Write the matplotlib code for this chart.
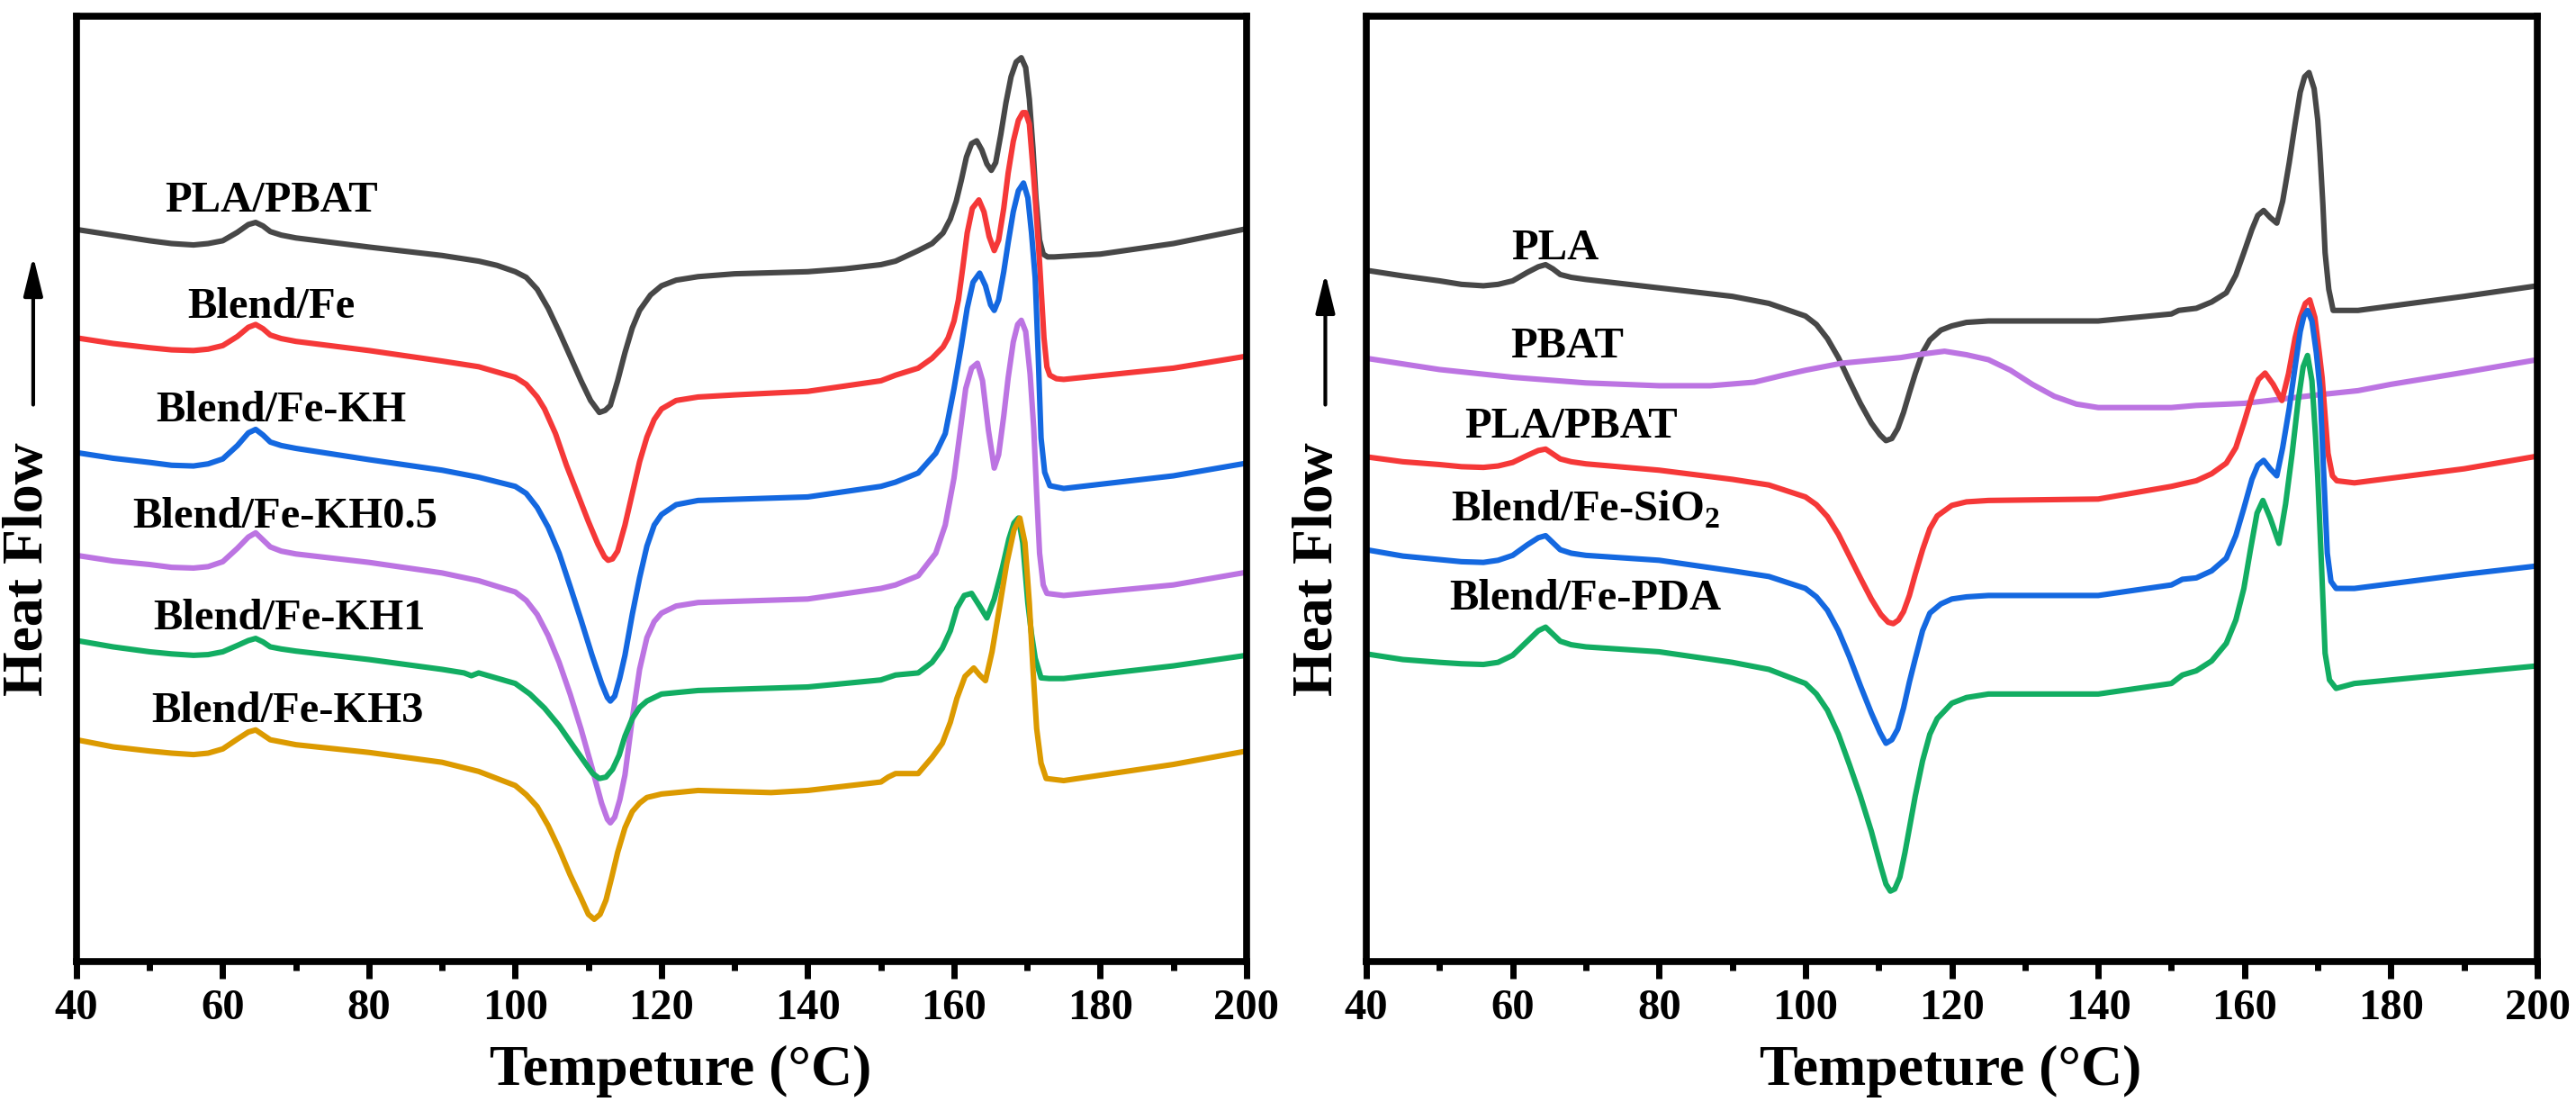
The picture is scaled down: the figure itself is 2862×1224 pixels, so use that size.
import matplotlib
matplotlib.use("Agg")
import matplotlib.pyplot as plt
from matplotlib.ticker import MultipleLocator

plt.rcParams['font.family'] = ['Liberation Serif', 'DejaVu Serif']
plt.rcParams['font.weight'] = 'bold'
plt.rcParams['mathtext.fontset'] = 'custom'
plt.rcParams['mathtext.rm'] = 'Liberation Serif:bold'

# (temperature in °C, heat flow in arbitrary units, exo up)

# ---- left panel ----
pla_pbat = [(40, -325), (45, -333), (50, -341), (53, -345), (56, -347), (58, -345), (60, -341), (62, -329),
            (63.5, -318), (64.5, -315), (65.5, -320), (66.5, -328), (68, -333), (70, -337), (80, -350),
            (90, -362), (95, -370), (97.5, -376), (100, -385), (101.5, -393), (103, -410), (104.5, -437),
            (106, -470), (107.5, -505), (109, -540), (110.3, -568), (111.5, -585), (112.3, -582), (113, -575),
            (114, -540), (115, -500), (116, -465), (117, -440), (118.5, -418), (120, -405), (122, -397),
            (125, -392), (130, -388), (140, -385), (145, -381), (150, -375), (152, -370), (155.1, -355),
            (157, -345), (158.5, -330), (159.5, -310), (160.3, -285), (161, -255), (161.7, -222), (162.4, -203),
            (163.1, -199), (163.8, -212), (164.5, -232), (165.1, -241), (165.7, -230), (166.4, -190),
            (167.1, -145), (167.8, -108), (168.5, -87), (169.2, -81), (169.8, -95), (170.3, -140), (170.8, -210),
            (171.2, -280), (171.7, -340), (172.2, -360), (172.8, -364), (173.7, -364), (180, -360), (190, -345),
            (200, -324)]

blend_fe = [(40, -479), (45, -487), (50, -493), (53, -496), (56, -497), (58, -495), (60, -490), (62, -477),
            (63.5, -464), (64.5, -460), (65.5, -466), (66.5, -475), (68, -480), (70, -484), (80, -497),
            (90, -512), (95, -520), (100, -535), (101.5, -545), (103, -563), (104, -580), (105.5, -615),
            (107, -660), (108.5, -700), (110, -740), (111.3, -772), (112.2, -790), (112.7, -795), (113.3, -793),
            (114, -782), (115, -745), (116, -700), (117, -655), (118, -620), (119, -595), (120, -580),
            (122, -568), (125, -563), (130, -560), (140, -555), (150, -540), (152, -532), (155.1, -522),
            (157, -508), (158.5, -492), (159.2, -479), (160, -455), (160.6, -425), (161.2, -379), (161.8, -330),
            (162.5, -295), (163.4, -283), (164.1, -300), (164.8, -335), (165.5, -355), (166.1, -340),
            (166.8, -295), (167.4, -245), (168.1, -200), (168.8, -170), (169.4, -159), (169.8, -159),
            (170.3, -175), (170.9, -251), (171.3, -310), (171.7, -372), (172.3, -479), (172.7, -520),
            (173.1, -532), (174, -537), (175, -538), (190, -522), (200, -505)]

blend_fe_kh = [(40, -642), (45, -650), (50, -656), (53, -660), (56, -661), (58, -658), (60, -651), (62, -632),
               (63.5, -614), (64.5, -609), (65.5, -617), (66.5, -627), (68, -632), (70, -636), (80, -652),
               (90, -667), (95, -677), (100, -690), (101.5, -700), (103, -720), (104.5, -748), (106, -785),
               (107.5, -832), (109, -880), (110.5, -930), (111.8, -970), (112.6, -990), (113, -995),
               (113.6, -988), (114.3, -962), (115, -930), (116, -872), (117, -820), (118, -775), (119, -745),
               (120, -730), (122, -716), (125, -710), (140, -705), (150, -690), (152, -684), (155.1, -671),
               (157.5, -643), (158.8, -615), (160, -551), (161, -490), (161.8, -437), (162.6, -400),
               (163.5, -387), (164.3, -405), (165, -432), (165.5, -440), (166.1, -425), (166.8, -385),
               (167.4, -344), (168.1, -300), (168.8, -270), (169.5, -259), (170.1, -280), (170.6, -330),
               (171.1, -394), (171.5, -500), (171.9, -621), (172.4, -670), (173.1, -689), (175, -693),
               (190, -675), (200, -657)]

blend_fe_kh05 = [(40, -788), (45, -796), (50, -801), (53, -805), (56, -806), (58, -804), (60, -797), (62, -778),
                 (63.5, -762), (64.5, -756), (65.5, -766), (66.5, -776), (68, -782), (70, -786), (80, -798),
                 (90, -813), (95, -824), (100, -840), (101.5, -852), (103, -872), (104.5, -902), (106, -940),
                 (107.5, -985), (109, -1035), (110.5, -1090), (111.8, -1140), (112.6, -1163), (113, -1168),
                 (113.6, -1160), (114.3, -1135), (115, -1100), (116, -1020), (117, -950), (118, -905),
                 (119, -882), (120, -870), (122, -860), (125, -855), (140, -850), (150, -835), (152, -830),
                 (155.1, -817), (157.5, -785), (158.8, -745), (160, -678), (160.8, -615), (161.6, -551),
                 (162.4, -522), (163.2, -515), (163.9, -540), (164.7, -610), (165.5, -664), (166.1, -645),
                 (166.8, -590), (167.4, -536), (168.1, -485), (168.7, -460), (169.2, -454), (169.8, -470),
                 (170.4, -530), (170.9, -607), (171.3, -700), (171.7, -785), (172.2, -830), (172.7, -842),
                 (175, -845), (190, -830), (200, -812)]

blend_fe_kh1 = [(40, -909), (45, -918), (50, -925), (53, -928), (56, -930), (58, -929), (60, -925), (62, -916),
                (63.5, -909), (64.5, -906), (65.5, -911), (66.5, -918), (68, -921), (70, -924), (80, -936),
                (90, -950), (93, -955), (94, -959), (95, -955), (100, -970), (102, -985), (104, -1005),
                (106, -1030), (108, -1060), (109.5, -1082), (110.6, -1098), (111.5, -1105), (112.4, -1103),
                (113.3, -1092), (114.2, -1072), (115, -1045), (116, -1020), (117, -1004), (118, -995),
                (120, -985), (125, -980), (140, -975), (150, -965), (152, -958), (155.1, -955), (157, -940),
                (158.4, -920), (159.5, -895), (160.4, -863), (161.4, -845), (162.4, -842), (163.5, -860),
                (164.5, -877), (165.5, -850), (166.6, -806), (167.5, -765), (168.2, -742), (168.8, -735),
                (169.4, -770), (170.1, -856), (170.6, -900), (171.1, -934), (171.9, -962), (173, -963),
                (175, -963), (190, -945), (200, -930)]

blend_fe_kh3 = [(40, -1050), (45, -1060), (50, -1066), (53, -1069), (56, -1071), (58, -1069), (60, -1063),
                (62, -1049), (63.5, -1039), (64.5, -1036), (65.5, -1043), (66.5, -1050), (68, -1053),
                (70, -1057), (80, -1068), (90, -1082), (95, -1095), (100, -1115), (101.5, -1128), (103, -1145),
                (104.5, -1172), (106, -1205), (107.5, -1242), (109, -1275), (110, -1298), (110.8, -1305),
                (111.6, -1298), (112.4, -1278), (113.2, -1245), (114, -1210), (115, -1175), (116, -1152),
                (117, -1140), (118, -1132), (120, -1127), (125, -1122), (135, -1125), (140, -1122),
                (150, -1110), (151, -1103), (152, -1098), (155.1, -1098), (157, -1075), (158.4, -1055),
                (159.5, -1025), (160.4, -991), (161.5, -960), (162.7, -948), (163.5, -958), (164.3, -966),
                (165.2, -925), (166.2, -863), (167.2, -800), (168.2, -752), (169.0, -735), (169.7, -770),
                (170.3, -856), (170.8, -950), (171.3, -1034), (171.9, -1083), (172.6, -1105), (175, -1108),
                (190, -1085), (200, -1066)]

# ---- right panel ----
pla = [(40, -383), (45, -391), (50, -398), (53, -403), (56, -405), (58, -403), (60, -398), (62, -386),
       (63.5, -378), (64.5, -375), (65.5, -381), (66.5, -389), (68, -393), (70, -396), (80, -408), (90, -420),
       (95, -430), (100, -448), (101.5, -460), (103, -480), (104.5, -507), (106, -540), (107.5, -572),
       (109, -600), (110.2, -617), (111, -625), (111.8, -622), (112.6, -608), (113.4, -585), (114.2, -557),
       (115, -530), (116, -500), (117, -482), (118.5, -468), (120, -462), (122, -457), (125, -455), (140, -455),
       (150, -445), (151, -440), (153.4, -437), (155.5, -428), (157.5, -415), (158.8, -390), (159.9, -358),
       (161, -325), (161.8, -305), (162.6, -298), (163.5, -308), (164.4, -316), (165.2, -285), (166.1, -230),
       (166.9, -175), (167.6, -130), (168.2, -108), (168.8, -102), (169.5, -125), (170.0, -170), (170.3, -216),
       (170.7, -290), (171.0, -358), (171.5, -410), (172.1, -440), (175.5, -440), (190, -420), (200, -405)]

pbat = [(40, -508), (50, -524), (60, -535), (70, -543), (80, -547), (87, -547), (93, -542), (97, -532),
        (100, -525), (105, -515), (110, -510), (113, -507), (116, -502), (119, -498), (122, -503), (125, -510),
        (128, -525), (131, -545), (134, -562), (137, -573), (140, -578), (150, -578), (153.4, -575),
        (160, -572), (170, -560), (175.5, -554), (180, -545), (190, -528), (200, -510)]

pla_pbat_r = [(40, -648), (45, -655), (50, -659), (53, -662), (56, -663), (58, -661), (60, -656), (62, -646),
              (63.5, -639), (64.5, -637), (65.5, -644), (66.5, -651), (68, -655), (70, -658), (80, -667),
              (90, -680), (95, -688), (100, -705), (101.5, -716), (103, -733), (104.5, -758), (106, -789),
              (107.5, -820), (109, -850), (110.3, -872), (111.3, -883), (112, -885), (112.7, -880),
              (113.4, -868), (114.2, -845), (115, -815), (116, -780), (117, -750), (118, -732), (120, -717),
              (122, -712), (125, -710), (140, -708), (150, -690), (153.4, -682), (155.5, -672), (157.5, -657),
              (158.8, -635), (159.9, -600), (161, -562), (161.9, -538), (162.8, -529), (163.9, -545),
              (165.1, -568), (166, -530), (166.9, -479), (167.6, -450), (168.3, -430), (168.9, -425),
              (169.6, -450), (170.2, -500), (170.6, -536), (171.0, -590), (171.4, -643), (172, -675),
              (172.6, -682), (175, -685), (190, -665), (200, -647)]

blend_fe_sio2 = [(40, -780), (45, -789), (50, -794), (53, -797), (56, -798), (58, -795), (60, -788), (62, -773),
                 (63.5, -763), (64.5, -760), (65.5, -770), (66.5, -780), (68, -785), (70, -788), (80, -795),
                 (90, -810), (95, -818), (100, -835), (101.5, -847), (103, -866), (104.5, -895), (106, -932),
                 (107.5, -973), (109, -1012), (110.2, -1040), (111, -1055), (111.8, -1050), (112.6, -1035),
                 (113.4, -1005), (114.2, -968), (115, -935), (116, -895), (117, -870), (118.5, -857),
                 (120, -850), (122, -847), (125, -845), (140, -845), (150, -830), (151.5, -822), (153.4, -820),
                 (155.5, -810), (157.5, -792), (158.8, -760), (159.9, -721), (161, -680), (161.8, -660),
                 (162.6, -653), (163.5, -665), (164.4, -675), (165.2, -635), (166.1, -579), (166.9, -520),
                 (167.6, -470), (168.1, -448), (168.6, -440), (169.2, -455), (169.8, -500), (170.3, -551),
                 (170.8, -670), (171.3, -785), (171.8, -825), (172.5, -835), (175, -835), (190, -815),
                 (200, -803)]

blend_fe_pda = [(40, -928), (45, -936), (50, -940), (53, -942), (56, -943), (58, -940), (60, -930), (62, -910),
                (63.5, -895), (64.5, -890), (65.5, -900), (66.5, -910), (68, -915), (70, -918), (80, -925),
                (90, -940), (95, -950), (100, -970), (101.5, -985), (103, -1008), (104.5, -1042), (106, -1085),
                (107.5, -1130), (109, -1180), (110.3, -1230), (111, -1255), (111.6, -1265), (112.2, -1262),
                (112.9, -1245), (113.6, -1210), (114.3, -1170), (115, -1130), (116, -1080), (117, -1042),
                (118, -1020), (120, -998), (122, -990), (125, -985), (140, -985), (150, -970), (151.5, -958),
                (153.4, -952), (155.5, -938), (157.5, -913), (158.8, -880), (159.9, -835), (160.8, -780),
                (161.7, -728), (162.5, -710), (163.5, -735), (164.7, -771), (165.6, -715), (166.5, -643),
                (167.3, -570), (168, -520), (168.6, -504), (169.2, -540), (169.7, -620), (170.0, -678),
                (170.5, -800), (171.0, -927), (171.6, -965), (172.5, -977), (175, -970), (190, -955),
                (200, -945)]

gray, red, blue, green, purple, orange = '#474747', '#F53838', '#1468E0', '#12AD62', '#BC74E2', '#DC9A00'

# name, data, colour, label anchor (T, heat flow)
left_curves = [
    ('PLA/PBAT', pla_pbat, gray, (66.6, -300)),
    ('Blend/Fe', blend_fe, red, (66.6, -450)),
    ('Blend/Fe-KH', blend_fe_kh, blue, (68.0, -597)),
    ('Blend/Fe-KH0.5', blend_fe_kh05, purple, (68.5, -748)),
    ('Blend/Fe-KH1', blend_fe_kh1, green, (69.1, -893)),
    ('Blend/Fe-KH3', blend_fe_kh3, orange, (68.9, -1025)),
]
right_curves = [
    ('PLA', pla, gray, (65.8, -368)),
    ('PBAT', pbat, purple, (67.4, -507)),
    ('PLA/PBAT', pla_pbat_r, red, (68.0, -620)),
    ('Blend/Fe-SiO$_\\mathrm{2}$', blend_fe_sio2, blue, (70.0, -740)),
    ('Blend/Fe-PDA', blend_fe_pda, green, (69.9, -865)),
]

fig = plt.figure(figsize=(28.62, 12.24), dpi=100)
ax_l = fig.add_axes([0.0297, 0.1275, 0.4542, 0.8578])
ax_r = fig.add_axes([0.5304, 0.1275, 0.4546, 0.8578])


def style_panel(ax, curves, xlab_x, arrow_x, arrow_tip):
    # 曲线 + 标签
    for name, pts, c, (lx, ly) in curves:
        t, hf = zip(*pts)
        ax.plot(t, hf, color=c, lw=4.4, solid_joinstyle='round', solid_capstyle='round')
        ax.text(lx, ly, name, fontsize=35, fontweight='bold', ha='center', va='baseline')

    ax.set_xlim(40, 200)
    ax.set_ylim(-1365, -22)
    ax.set_xticks(range(40, 201, 20))
    ax.xaxis.set_minor_locator(MultipleLocator(10))
    ax.set_yticks([])
    ax.tick_params(axis='x', which='major', direction='out', length=14, width=5, pad=8, labelsize=35)
    ax.tick_params(axis='x', which='minor', direction='out', length=7, width=5)
    for lab in ax.get_xticklabels():
        lab.set_fontweight('bold')
    for sp in ax.spines.values():
        sp.set_linewidth(5.5)

    ax.set_xlabel('Tempeture (°C)', fontsize=46, fontweight='bold')
    ax.xaxis.set_label_coords(xlab_x, -0.131)
    ax.xaxis.label.set_va('baseline')

    ax.set_ylabel('Heat Flow', fontsize=46, fontweight='bold')
    ax.yaxis.set_label_coords(-0.041, 0.415)
    ax.yaxis.label.set_va('center')

    # 纵轴箭头
    ax.annotate('', xy=(arrow_x, arrow_tip), xytext=(arrow_x, 0.589), xycoords='axes fraction',
                annotation_clip=False,
                arrowprops=dict(arrowstyle='-|>,head_length=1.1,head_width=0.27', mutation_scale=24,
                                lw=3, color='black', shrinkA=0, shrinkB=0))


style_panel(ax_l, left_curves, 0.516, -0.037, 0.746)
style_panel(ax_r, right_curves, 0.499, -0.035, 0.728)

fig.savefig('out.png', dpi=100)
